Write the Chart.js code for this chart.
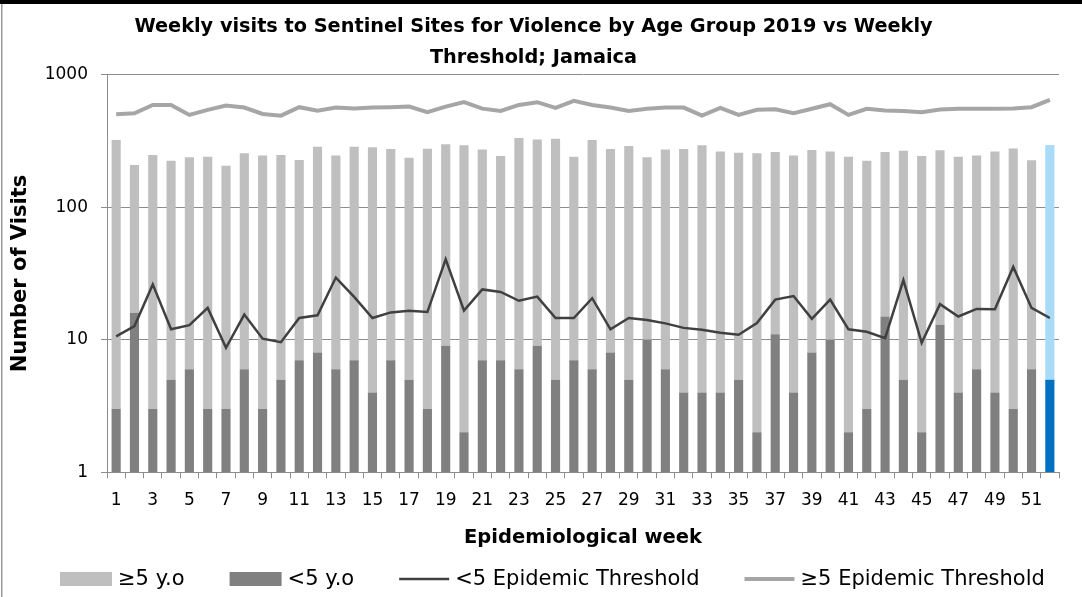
<!DOCTYPE html>
<html>
<head>
<meta charset="utf-8">
<script src="https://cdn.jsdelivr.net/npm/chart.js@4.4.1/dist/chart.umd.min.js"></script>
<style>
  body { margin: 0; background: #fff; }
  #wrap { width: 1082px; height: 597px; position: relative; }
</style>
</head>
<body>
<div id="wrap"><canvas id="chart" width="1082" height="597"></canvas></div>
<script>
// semanas epidemiológicas 1..52
const weeks = Array.from({length: 52}, (_, i) => String(i + 1));

// visitas <5 anos (barra escura)
const under5 = [3, 16, 3, 5, 6, 3, 3, 6, 3, 5, 7, 8, 6, 7, 4, 7, 5, 3, 9, 2, 7, 7, 6, 9, 5, 7,
                6, 8, 5, 10, 6, 4, 4, 4, 5, 2, 11, 4, 8, 10, 2, 3, 15, 5, 2, 13, 4, 6, 4, 3, 6, 5];

// visitas >=5 anos (empilhadas sobre as <5)
const over5 = [320, 193, 246, 220, 233, 238, 203, 250, 243, 244, 221, 279, 240, 280, 280, 269, 232, 274, 291, 292, 266, 237, 328, 316, 325, 234,
               317, 268, 286, 229, 267, 272, 290, 260, 254, 254, 251, 242, 263, 254, 239, 222, 247, 263, 242, 257, 237, 240, 260, 275, 221, 291];

// limiares epidêmicos
const under5Threshold = [10.6, 12.7, 26.2, 12.0, 12.9, 17.4, 8.7, 15.5, 10.2, 9.6, 14.6, 15.3, 29.5,
                         21.1, 14.6, 16.1, 16.6, 16.2, 40.6, 16.6, 24.0, 23.0, 19.7, 21.2, 14.6, 14.6,
                         20.6, 12.0, 14.6, 14.1, 13.3, 12.3, 11.9, 11.3, 10.9, 13.4, 20.1, 21.4, 14.4,
                         20.1, 12.0, 11.5, 10.3, 28.2, 9.5, 18.6, 15.0, 17.1, 17.0, 35.5, 17.4, 14.6];
const over5Threshold = [505, 514, 594, 594, 499, 545, 587, 567, 508, 493, 571, 538, 567,
                        557, 567, 571, 577, 523, 577, 623, 557, 535, 594, 623, 565, 637,
                        594, 567, 535, 555, 567, 567, 493, 565, 499, 545, 550, 514, 555,
                        601, 499, 555, 538, 535, 523, 548, 555, 555, 555, 557, 571, 648];

const yTicks = [1, 10, 100, 1000];

const FONT = '"DejaVu Sans", sans-serif';
const currentWeek = 52; // semana destacada em azul

// cores das barras (a última semana fica azul)
const lightColors = weeks.map((w, i) => (i + 1 === currentWeek ? '#A9DBF8' : '#BFBFBF'));
const darkColors = weeks.map((w, i) => (i + 1 === currentWeek ? '#0070C0' : '#808080'));

// Fundo e bordas da moldura
const framePlugin = {
    id: 'frame',
    beforeDraw(chart) {
        const ctx = chart.ctx;
        ctx.save();
        ctx.fillStyle = '#fff';
        ctx.fillRect(0, 0, chart.width, chart.height);
        ctx.fillStyle = '#000';
        ctx.fillRect(0, 0, chart.width, 4);
        ctx.fillStyle = '#999';
        ctx.fillRect(1, 4, 1.5, chart.height - 4);
        ctx.restore();
    }
};

// Legenda desenhada à mão (barras = caixa, linhas = traço)
const legendPlugin = {
    id: 'bottomLegend',
    afterDraw(chart, args, opts) {
        const ctx = chart.ctx;
        ctx.save();
        ctx.font = opts.fontSize + 'px ' + FONT;
        ctx.textBaseline = 'middle';
        ctx.fillStyle = '#000';
        let x = opts.startX;
        const y = opts.y;
        chart.data.datasets.forEach((ds, i) => {
            if (ds.type === 'line') {
                ctx.strokeStyle = ds.borderColor;
                ctx.lineWidth = ds.borderWidth;
                ctx.beginPath();
                ctx.moveTo(x, y);
                ctx.lineTo(x + opts.lineWidth, y);
                ctx.stroke();
                x += opts.lineWidth;
            } else {
                ctx.fillStyle = i === 0 ? '#BFBFBF' : '#808080';
                ctx.fillRect(x, y - opts.boxHeight / 2, opts.boxWidth, opts.boxHeight);
                x += opts.boxWidth;
            }
            x += opts.textGap;
            ctx.fillStyle = '#000';
            ctx.fillText(ds.label, x, y + 1);
            x += ctx.measureText(ds.label).width + opts.itemGap;
        });
        ctx.restore();
    }
};

const ctx = document.getElementById('chart').getContext('2d');
new Chart(ctx, {
    type: 'bar',
    data: {
        labels: weeks,
        datasets: [
            {
                label: '≥5 y.o',
                data: over5,
                backgroundColor: lightColors,
                stack: 'visits',
                order: 3,
                categoryPercentage: 1,
                barPercentage: 0.5
            },
            {
                label: '<5 y.o',
                data: under5,
                backgroundColor: darkColors,
                stack: 'visits',
                order: 2,
                categoryPercentage: 1,
                barPercentage: 0.5
            },
            {
                type: 'line',
                label: '<5 Epidemic Threshold',
                data: under5Threshold,
                borderColor: '#404040',
                borderWidth: 2.5,
                pointRadius: 0,
                tension: 0,
                stack: 'lt5',
                order: 1
            },
            {
                type: 'line',
                label: '≥5 Epidemic Threshold',
                data: over5Threshold,
                borderColor: '#A6A6A6',
                borderWidth: 4,
                pointRadius: 0,
                tension: 0,
                stack: 'ge5',
                order: 0
            }
        ]
    },
    options: {
        responsive: false,
        animation: false,
        layout: { padding: { left: 8, right: 23, top: 0, bottom: 43 } },
        plugins: {
            title: {
                display: true,
                text: ['Weekly visits to Sentinel Sites for Violence by Age Group 2019 vs Weekly', 'Threshold; Jamaica'],
                color: '#000',
                font: { family: FONT, size: 19.3, weight: 'bold', lineHeight: 1.6 },
                padding: { top: 12, bottom: 1.2 }
            },
            legend: { display: false },
            tooltip: { enabled: false },
            bottomLegend: {
                startX: 60,
                y: 579,
                fontSize: 21,
                boxWidth: 52,
                boxHeight: 14,
                lineWidth: 50,
                textGap: 6,
                itemGap: 45
            }
        },
        scales: {
            x: {
                stacked: true,
                offset: true,
                grid: {
                    offset: true,
                    drawOnChartArea: false,
                    tickLength: 6,
                    color: '#8C8C8C'
                },
                border: { color: '#8C8C8C', width: 1 },
                ticks: {
                    autoSkip: false,
                    maxRotation: 0,
                    padding: 12,
                    color: '#000',
                    font: { family: FONT, size: 17 },
                    callback(value, index) {
                        return index % 2 === 0 ? weeks[index] : '';
                    }
                },
                title: {
                    display: true,
                    text: 'Epidemiological week',
                    color: '#000',
                    font: { family: FONT, size: 19.5, weight: 'bold' },
                    padding: { top: 4, bottom: 4 }
                }
            },
            y: {
                type: 'logarithmic',
                stacked: true,
                min: 1,
                max: 1000,
                afterBuildTicks(scale) {
                    scale.ticks = yTicks.map(v => ({ value: v }));
                },
                afterFit(scale) {
                    scale.width = 99;
                },
                grid: {
                    color: '#8C8C8C',
                    tickLength: 6
                },
                border: { color: '#8C8C8C', width: 1 },
                ticks: {
                    color: '#000',
                    padding: 13,
                    font: { family: FONT, size: 17 },
                    callback(value) {
                        return yTicks.includes(value) ? String(value) : '';
                    }
                },
                title: {
                    display: true,
                    text: 'Number of Visits',
                    color: '#000',
                    font: { family: FONT, size: 21, weight: 'bold' },
                    padding: { top: 0, bottom: 0 }
                }
            }
        }
    },
    plugins: [framePlugin, legendPlugin]
});
</script>
</body>
</html>
